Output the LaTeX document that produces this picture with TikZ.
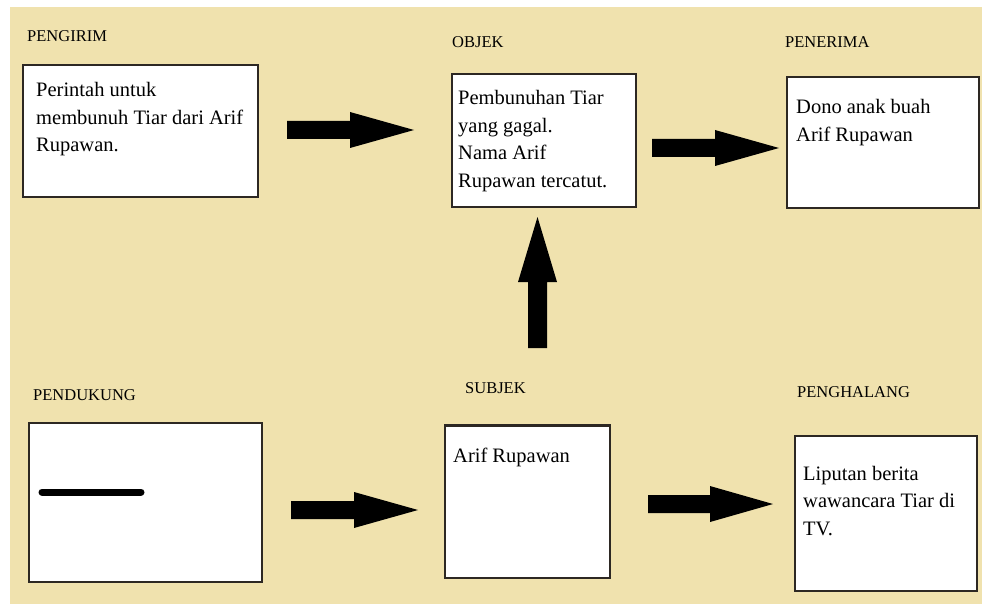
\documentclass[tikz,border=0pt]{standalone}
\usepackage{fontspec}
\setmainfont{Liberation Serif}
\usetikzlibrary{fit}
\definecolor{paper}{RGB}{240,226,174}
\definecolor{frame}{RGB}{45,40,35}
\tikzset{
  box/.style={draw=frame, line width=1.3pt, fill=white, inner sep=0pt},
  heading/.style={anchor=base west, inner sep=0pt, font=\fontsize{16.5}{20}\selectfont, text=black},
  body/.style={anchor=base west, inner sep=0pt, font=\fontsize{20.5}{27.5}\selectfont, text=black},
  % block arrow pointing along +x: shaft length / head length / shaft half-width / head half-width
  pics/barrow/.style args={#1/#2/#3/#4}{code={
    \fill[black] (0,-#3) -- (#1,-#3) -- (#1,-#4) -- (#1+#2,0) -- (#1,#4) -- (#1,#3) -- (0,#3) -- cycle;
  }}
}
\begin{document}
\begin{tikzpicture}[x=1pt,y=-1pt]
  \useasboundingbox (0,0) rectangle (982,604);
  \fill[white] (0,0) rectangle (982,604);
  \fill[paper] (10,7) rectangle (982,604);

  % headings
  \node[heading] (hpengirim) at (27,42) {PENGIRIM};
  \node[heading] (hobjek) at (452,48) {OBJEK};
  \node[heading] (hpenerima) at (785,48) {PENERIMA};
  \node[heading] (hpendukung) at (33,400) {PENDUKUNG};
  \node[heading] (hsubjek) at (465,393) {SUBJEK};
  \node[heading] (hpenghalang) at (797,397) {PENGHALANG};

  % boxes
  \node[box, fit={(23,65) (258,197)}] (pengirim) {};
  \node[box, fit={(452,74) (636,207)}] (objek) {};
  \node[box, fit={(787,77) (979,208)}] (penerima) {};
  \node[box, fit={(29,423) (262,582)}] (pendukung) {};
  \node[box, fit={(445,426) (610,578)}] (subjek) {};
  \draw[frame, line width=2.6pt] (subjek.north west) -- (subjek.north east);
  \node[box, fit={(795,436) (977,591)}] (penghalang) {};

  % box texts
  \node[body] (tpengirim) at (36,97) {\begin{tabular}[t]{@{}l@{}}Perintah untuk\\membunuh Tiar dari Arif\\Rupawan.\end{tabular}};
  \node[body] (tobjek) at (458,105) {\begin{tabular}[t]{@{}l@{}}Pembunuhan Tiar\\yang gagal.\\Nama Arif\\Rupawan tercatut.\end{tabular}};
  \node[body] (tpenerima) at (796,114) {\begin{tabular}[t]{@{}l@{}}Dono anak buah\\Arif Rupawan\end{tabular}};
  \node[body] (tsubjek) at (453,462) {Arif Rupawan};
  \node[body] (tpenghalang) at (803,480) {\begin{tabular}[t]{@{}l@{}}Liputan berita\\wawancara Tiar di\\TV.\end{tabular}};

  % dash inside the supporter box
  \draw[black, line width=7pt, line cap=round] (42,492) -- (141,492);

  % block arrows
  \pic (a1) at (287,130) {barrow=63/64/9/18};
  \pic (a2) at (652,148) {barrow=63/64/9/18};
  \pic (a3) at (291,510) {barrow=63/64/9/18};
  \pic (a4) at (648,504) {barrow=62/63/9/18};
  \pic[rotate=90] (a5) at (537.5,348) {barrow=66/65/9.5/19.5};
\end{tikzpicture}
\end{document}
